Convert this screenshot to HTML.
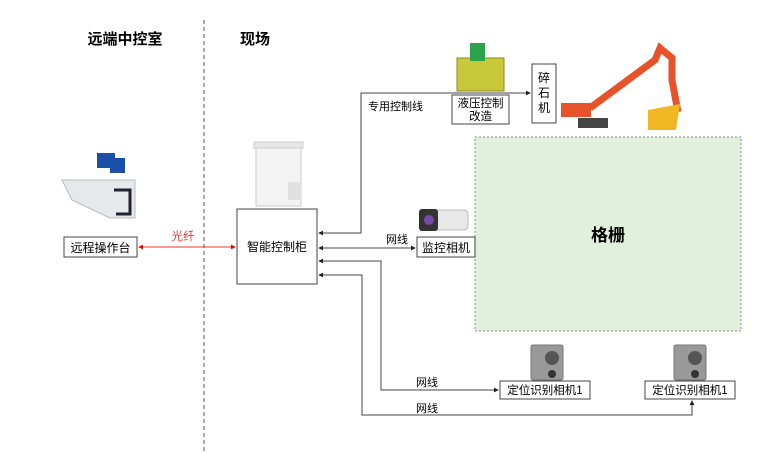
<!DOCTYPE html>
<html><head><meta charset="utf-8"><style>
html,body{margin:0;padding:0;background:#fff;width:784px;height:454px;overflow:hidden}
svg text{font-family:"Liberation Sans","Noto Sans CJK SC",sans-serif}
</style></head><body>
<svg width="784" height="454" viewBox="0 0 784 454" xmlns="http://www.w3.org/2000/svg">
<defs>
<marker id="a" viewBox="0 0 6 6" refX="5" refY="3" markerWidth="5" markerHeight="5" orient="auto-start-reverse"><path d="M0,0L6,3L0,6z" fill="#222"/></marker>
<marker id="r" viewBox="0 0 6 6" refX="5" refY="3" markerWidth="5" markerHeight="5" orient="auto-start-reverse"><path d="M0,0L6,3L0,6z" fill="#e00"/></marker>
</defs>
<line x1="204" y1="20" x2="204" y2="454" stroke="#555" stroke-dasharray="4,3"/>
<text x="125" y="44" font-size="15" font-weight="bold" text-anchor="middle">远端中控室</text>
<text x="255" y="44" font-size="15" font-weight="bold" text-anchor="middle">现场</text>
<!-- console -->
<path d="M62,180 L135,180 L135,218 L110,218 L72,200 Z" fill="#e6e8ec" stroke="#bbb"/>
<rect x="97" y="153" width="18" height="15" fill="#1b4fa8"/><rect x="110" y="158" width="15" height="15" fill="#1b4fa8"/>
<path d="M114,190 L130,190 L130,214 L116,214" fill="none" stroke="#223" stroke-width="3"/>
<rect x="64" y="237" width="73" height="20" fill="#fff" stroke="#444"/>
<text x="100.5" y="252" font-size="12" text-anchor="middle">远程操作台</text>
<line x1="139" y1="247" x2="235" y2="247" stroke="#e33" marker-start="url(#r)" marker-end="url(#r)"/>
<text x="183" y="240" font-size="11.5" fill="#e33" text-anchor="middle">光纤</text>
<!-- cabinet -->
<rect x="256" y="146" width="45" height="60" fill="#f3f3f3" stroke="#ccc"/>
<rect x="254" y="142" width="49" height="6" fill="#e8e8e8" stroke="#ccc"/>
<rect x="288" y="182" width="12" height="18" fill="#e0e0e0"/>
<rect x="237" y="209" width="80" height="75" fill="#fff" stroke="#444"/>
<text x="277" y="251" font-size="12" text-anchor="middle">智能控制柜</text>
<!-- green grid -->
<rect x="475" y="137" width="266" height="194" fill="#e2efda" stroke="#888" stroke-dasharray="2,2"/>
<text x="608" y="241" font-size="17" font-weight="bold" text-anchor="middle">格栅</text>
<!-- lines -->
<polyline points="319,233 361,233 361,93 530,93" fill="none" stroke="#444" marker-start="url(#a)" marker-end="url(#a)"/>
<text x="368" y="110" font-size="11">专用控制线</text>
<line x1="319" y1="248" x2="415" y2="248" stroke="#444" marker-start="url(#a)" marker-end="url(#a)"/>
<text x="386" y="243" font-size="11">网线</text>
<polyline points="319,261 381,261 381,390 498,390" fill="none" stroke="#444" marker-start="url(#a)" marker-end="url(#a)"/>
<text x="416" y="386" font-size="11">网线</text>
<polyline points="319,275 362,275 362,415 692,415 692,401" fill="none" stroke="#444" marker-start="url(#a)" marker-end="url(#a)"/>
<text x="416" y="412" font-size="11">网线</text>
<!-- hydraulic -->
<rect x="457" y="58" width="47" height="33" fill="#c8c83a" stroke="#8a8a20"/>
<rect x="470" y="43" width="15" height="18" fill="#2aa34a"/>
<rect x="452" y="95" width="57" height="29" fill="#fff" stroke="#444"/>
<text x="480.5" y="107" font-size="11.5" text-anchor="middle">液压控制</text>
<text x="480.5" y="120" font-size="11.5" text-anchor="middle">改造</text>
<rect x="532" y="64" width="24" height="59" fill="#fff" stroke="#444"/>
<text x="544" y="82" font-size="12" text-anchor="middle">碎</text>
<text x="544" y="97" font-size="12" text-anchor="middle">石</text>
<text x="544" y="112" font-size="12" text-anchor="middle">机</text>
<!-- excavator -->
<rect x="561" y="103" width="30" height="14" fill="#e8522a"/>
<rect x="578" y="118" width="30" height="10" fill="#444"/>
<path d="M590,108 L655,60 L660,48 L672,58 L672,80 L678,112" fill="none" stroke="#e8522a" stroke-width="7"/>
<path d="M648,110 L680,104 L676,130 L648,130 Z" fill="#f2b824"/>
<!-- surveillance camera -->
<rect x="424" y="210" width="44" height="20" rx="4" fill="#e8e8e8" stroke="#bbb"/>
<rect x="419" y="209" width="19" height="22" rx="3" fill="#333"/>
<circle cx="429" cy="220" r="5" fill="#7a4aa8"/>
<rect x="417" y="237" width="58" height="20" fill="#fff" stroke="#444"/>
<text x="446" y="252" font-size="12" text-anchor="middle">监控相机</text>
<!-- positioning cams -->
<g fill="#999" stroke="#777">
<rect x="531" y="345" width="32" height="35" rx="2"/><rect x="674" y="345" width="32" height="35" rx="2"/>
</g>
<circle cx="552" cy="358" r="7" fill="#555"/><circle cx="552" cy="374" r="4" fill="#333"/>
<circle cx="695" cy="358" r="7" fill="#555"/><circle cx="695" cy="374" r="4" fill="#333"/>
<rect x="500" y="381" width="90" height="18" fill="#fff" stroke="#444"/>
<text x="545" y="394" font-size="11.5" text-anchor="middle">定位识别相机1</text>
<rect x="645" y="381" width="90" height="18" fill="#fff" stroke="#444"/>
<text x="690" y="394" font-size="11.5" text-anchor="middle">定位识别相机1</text>
</svg>
</body></html>
